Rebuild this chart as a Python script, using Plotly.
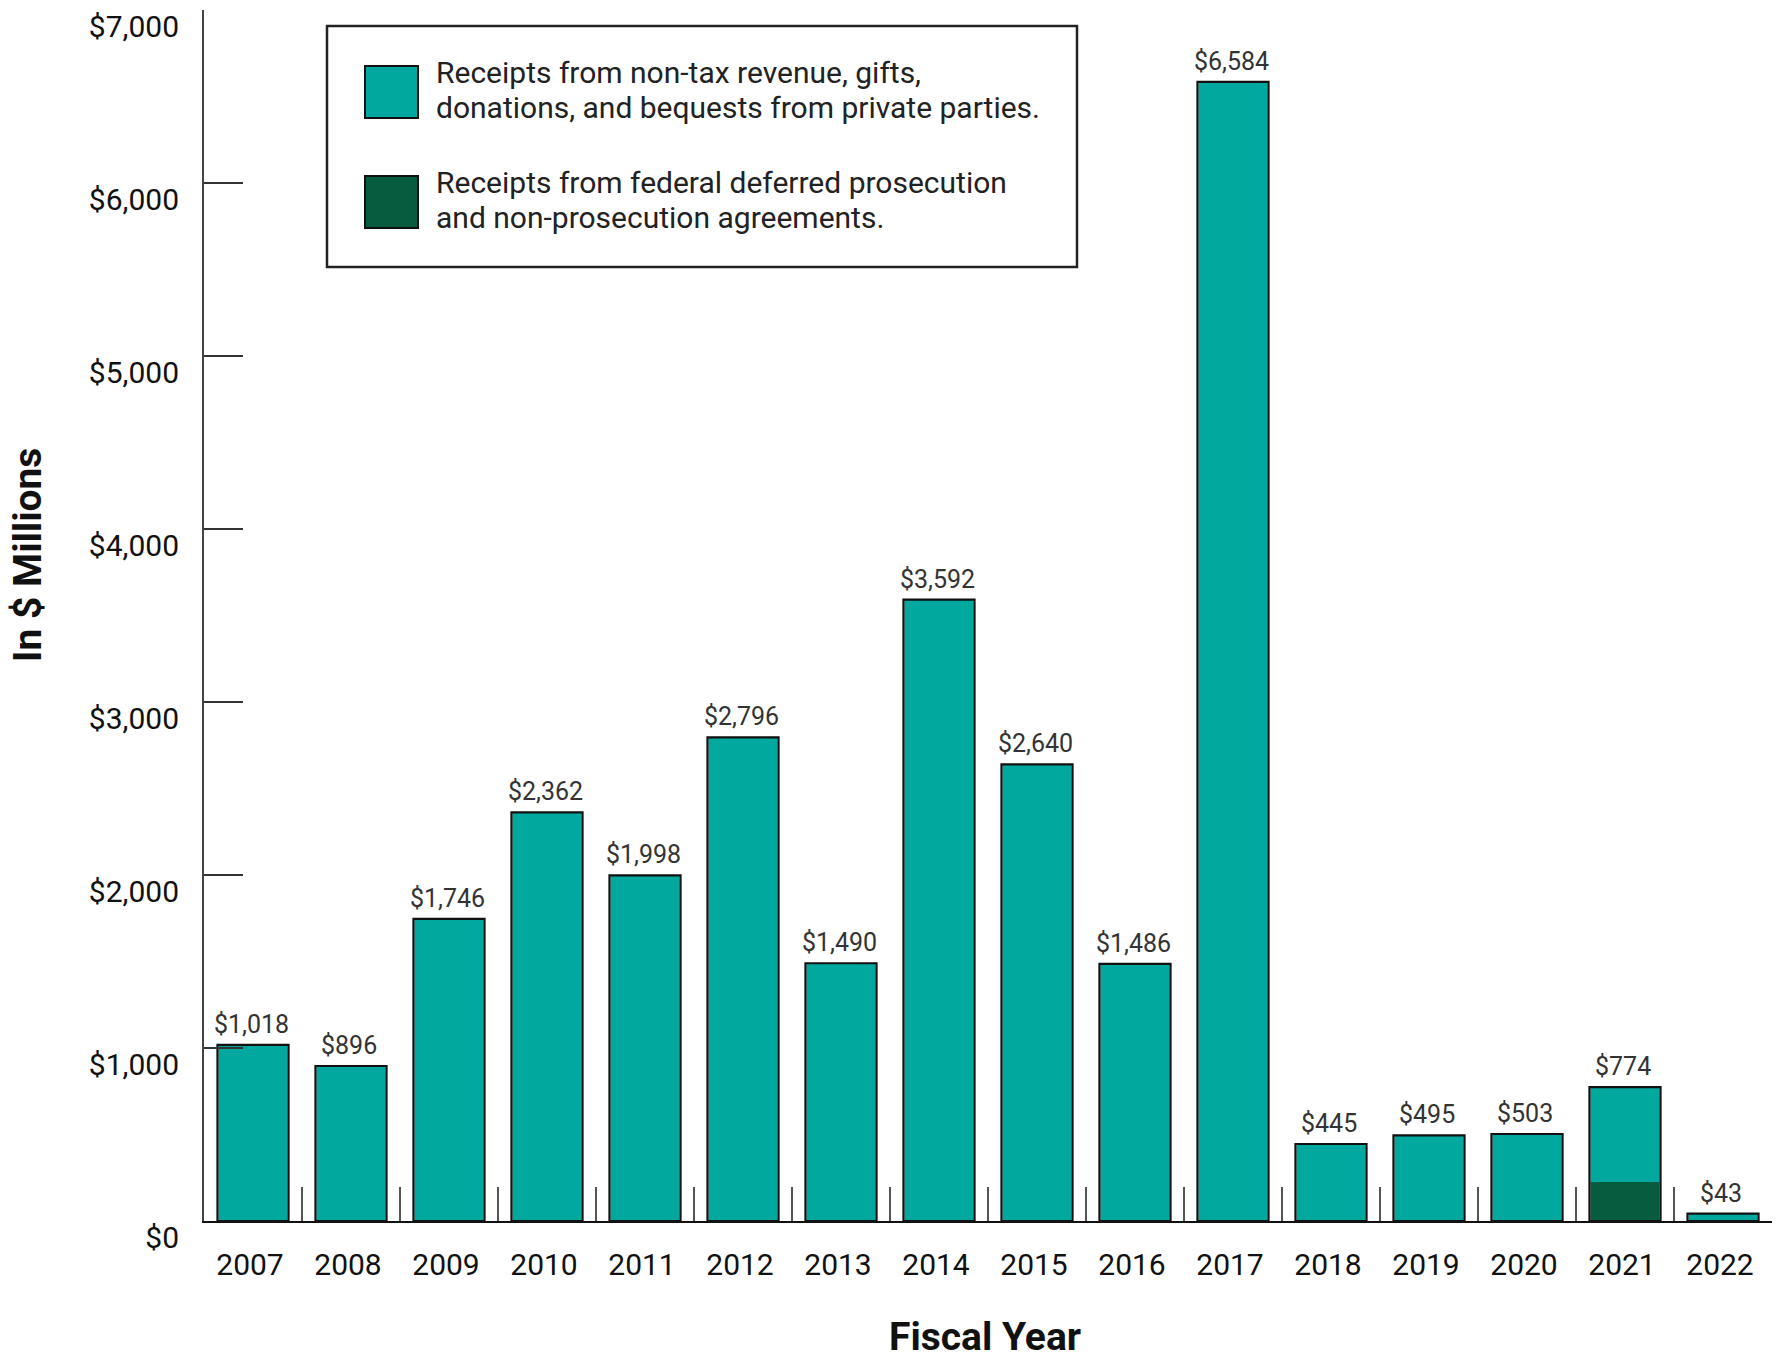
import plotly.graph_objects as go

# ---- data ----
years = ["2007", "2008", "2009", "2010", "2011", "2012", "2013", "2014",
         "2015", "2016", "2017", "2018", "2019", "2020", "2021", "2022"]
non_tax = [1018, 896, 1746, 2362, 1998, 2796, 1490, 3592,
           2640, 1486, 6584, 445, 495, 503, 549, 43]
dpa = [0, 0, 0, 0, 0, 0, 0, 0,
       0, 0, 0, 0, 0, 0, 225, 0]
ytick_vals = [0, 1000, 2000, 3000, 4000, 5000, 6000, 7000]
ytick_text = ["$0", "$1,000", "$2,000", "$3,000", "$4,000", "$5,000", "$6,000", "$7,000"]
legend_labels = [
    ["Receipts from non-tax revenue, gifts,", "donations, and bequests from private parties."],
    ["Receipts from federal deferred prosecution", "and non-prosecution agreements."],
]

totals = [a + b for a, b in zip(non_tax, dpa)]
total_text = ["${:,}".format(t) for t in totals]

TEAL = "#00A89D"
DARK = "#065C3E"
FONT = "Roboto"

# layout geometry (pixels)
W, H = 1781, 1359
L, R, T, B = 204, 9, 10, 138
PW, PH = W - L - R, H - T - B


def fx(px):
    return (px - L) / PW


def fy(py):
    return (H - B - py) / PH


BW = 0.725

fig = go.Figure()
fig.add_trace(go.Bar(x=years, y=dpa, width=BW - 0.02, marker=dict(color=DARK, line=dict(width=0)),
                     name=" ".join(legend_labels[1]), showlegend=False))
fig.add_trace(go.Bar(x=years, y=non_tax, base=dpa, width=BW - 0.02,
                     marker=dict(color=TEAL, line=dict(width=0)),
                     name=" ".join(legend_labels[0]), showlegend=False))
fig.add_trace(go.Bar(x=years, y=totals, width=BW,
                     marker=dict(color="rgba(0,0,0,0)", line=dict(color="#111111", width=2.2)),
                     showlegend=False, hoverinfo="skip"))

annotations = []
for i, (t, txt) in enumerate(zip(totals, total_text)):
    annotations.append(dict(x=i, y=t, xref="x", yref="y", text=txt, showarrow=False,
                            yanchor="bottom", yshift=4, xshift=-2,
                            font=dict(family=FONT, size=25, color="#333333")))

# axis titles
annotations.append(dict(x=fx(28), y=fy(555), xref="paper", yref="paper", text="<b>In $ Millions</b>",
                        textangle=-90, showarrow=False, xanchor="center", yanchor="middle",
                        font=dict(family=FONT, size=39, color="#111111")))
annotations.append(dict(x=fx(985), y=fy(1337), xref="paper", yref="paper", text="<b>Fiscal Year</b>",
                        showarrow=False, xanchor="center", yanchor="middle", borderpad=0,
                        font=dict(family=FONT, size=39, color="#111111")))

# custom legend
shapes = [dict(type="rect", xref="paper", yref="paper", x0=fx(327), x1=fx(1077), y0=fy(26), y1=fy(267),
               line=dict(color="#222222", width=2.5), fillcolor="white", layer="below")]
sw_y = [(66, 118), (176, 228)]
sw_col = [TEAL, DARK]
line_centers = [(72, 108), (182, 218)]
for (y0, y1), col, lab, lc in zip(sw_y, sw_col, legend_labels, line_centers):
    shapes.append(dict(type="rect", xref="paper", yref="paper", x0=fx(365), x1=fx(418), y0=fy(y0), y1=fy(y1),
                       line=dict(color="#111111", width=2), fillcolor=col))
    for txt, c in zip(lab, lc):
        annotations.append(dict(x=fx(434), y=fy(c), xref="paper", yref="paper", text=txt, showarrow=False,
                                xanchor="left", yanchor="middle",
                                font=dict(family=FONT, size=30, color="#222222")))

fig.update_layout(
    width=W, height=H,
    margin=dict(l=L, r=R, t=T, b=B, autoexpand=False),
    barmode="overlay",
    plot_bgcolor="white", paper_bgcolor="white",
    showlegend=False,
    font=dict(family=FONT, color="#111111"),
    annotations=annotations,
    shapes=shapes,
    xaxis=dict(type="category", categoryorder="array", categoryarray=years,
               range=[-0.5, len(years) - 0.5],
               showline=True, linecolor="#111111", linewidth=2,
               ticks="inside", tickson="boundaries", ticklen=34, tickwidth=1.5, tickcolor="#555555",
               tickfont=dict(family=FONT, size=30, color="#111111"),
               ticklabelstandoff=16, ticklabelshift=-3,
               showgrid=False, zeroline=False, fixedrange=True),
    yaxis=dict(range=[0, 7000], tickvals=ytick_vals, ticktext=ytick_text,
               showline=True, linecolor="#444444", linewidth=2,
               ticks="inside", ticklen=39, tickwidth=1.5, tickcolor="#333333",
               ticklabelposition="outside bottom", ticklabelstandoff=17, ticklabelshift=-5,
               tickfont=dict(family=FONT, size=30, color="#111111"),
               showgrid=False, zeroline=False, fixedrange=True),
)

fig.write_html("out.html")
